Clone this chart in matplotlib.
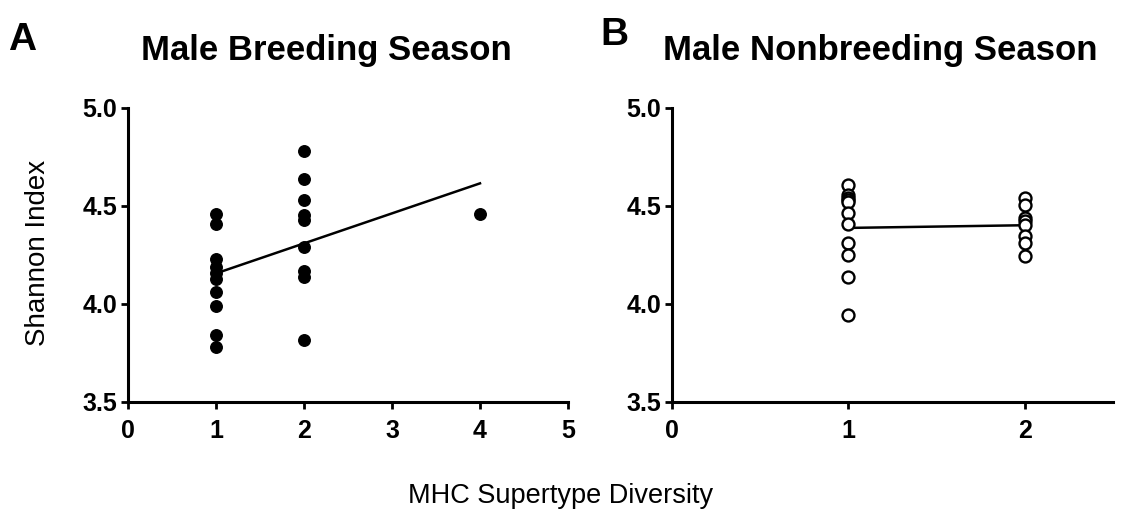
import numpy as np
import matplotlib
matplotlib.use("Agg")
import matplotlib.pyplot as plt

plt.rcParams['font.family'] = ['Liberation Sans', 'DejaVu Sans']

# Panel A: Male Breeding Season
a_x = [1]*10 + [2]*9 + [4]
a_y = [4.46, 4.41, 4.23, 4.19, 4.16, 4.13, 4.06, 3.99, 3.84, 3.78,
       4.78, 4.64, 4.53, 4.455, 4.43, 4.29, 4.17, 4.14, 3.815,
       4.46]

# Panel B: Male Nonbreeding Season
b_x = [1]*11 + [2]*8
b_y = [4.605, 4.555, 4.54, 4.53, 4.52, 4.465, 4.41, 4.31, 4.25, 4.14, 3.945,
       4.54, 4.505, 4.44, 4.425, 4.405, 4.345, 4.31, 4.245]

a_xticks = [0, 1, 2, 3, 4, 5]
b_xticks = [0, 1, 2]
yticks = [3.5, 4.0, 4.5, 5.0]

fig = plt.figure(figsize=(11.27, 5.14), dpi=100)
axA = fig.add_axes([128/1127, 1-402/514, (568-128)/1127, (402-108)/514])
axB = fig.add_axes([672/1127, 1-402/514, (1113-672)/1127, (402-108)/514])

def style(ax, xlim, xticks):
    ax.set_xlim(*xlim)
    ax.set_ylim(3.5, 5.0)
    ax.set_xticks(xticks)
    ax.set_yticks(yticks)
    ax.set_yticklabels([f"{v:.1f}" for v in yticks])
    for s in ['top', 'right']:
        ax.spines[s].set_visible(False)
    for s in ['left', 'bottom']:
        ax.spines[s].set_linewidth(2.2)
    ax.tick_params(direction='out', length=5, width=2.0, labelsize=18)
    ax.tick_params(axis='x', pad=7)
    ax.tick_params(axis='y', pad=3)
    for lab in ax.get_xticklabels() + ax.get_yticklabels():
        lab.set_fontweight('bold')

# Panel A
axA.plot(a_x, a_y, 'o', color='black', markersize=8.3, clip_on=False, zorder=3)
p = np.polyfit(a_x, a_y, 1)
xs = np.array([min(a_x), max(a_x)])
axA.plot(xs, np.polyval(p, xs), color='black', lw=1.8)
style(axA, (0, 5), a_xticks)

# Panel B
axB.plot(b_x, b_y, 'o', markerfacecolor='white', markeredgecolor='black',
         markeredgewidth=1.7, markersize=8.6, clip_on=False, zorder=3)
p = np.polyfit(b_x, b_y, 1)
xs = np.array([min(b_x), max(b_x)])
axB.plot(xs, np.polyval(p, xs), color='black', lw=1.8, zorder=2)
style(axB, (0, 2.5), b_xticks)

fig.text(326/1127, 1-60/514, "Male Breeding Season", fontsize=25, fontweight='bold',
         ha='center', va='baseline')
fig.text(880/1127, 1-60/514, "Male Nonbreeding Season", fontsize=25, fontweight='bold',
         ha='center', va='baseline')
fig.text(8/1127, 1-50/514, "A", fontsize=28, fontweight='bold', ha='left', va='baseline')
fig.text(600/1127, 1-45/514, "B", fontsize=28, fontweight='bold', ha='left', va='baseline')

fig.text(38/1127, 1-253/514, "Shannon Index", fontsize=20, rotation=90,
         ha='center', va='center')
fig.text(561/1127, 1-503/514, "MHC Supertype Diversity", fontsize=19.5,
         ha='center', va='baseline')

fig.savefig("out.png", dpi=100)
